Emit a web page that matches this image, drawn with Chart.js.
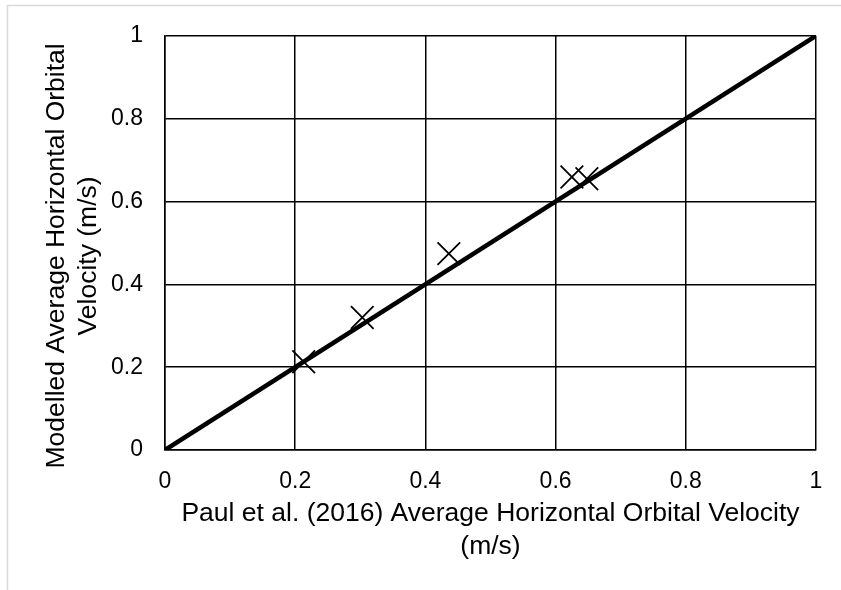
<!DOCTYPE html>
<html>
<head>
<meta charset="utf-8">
<script src="https://cdn.jsdelivr.net/npm/chart.js@4/dist/chart.umd.min.js"></script>
<style>
  html, body { margin: 0; padding: 0; background: #fff; }
  #wrap { width: 841px; height: 590px; position: relative; }
</style>
</head>
<body>
<div id="wrap"><canvas id="orbital"></canvas></div>
<script>
// Measured (Paul et al. 2016) vs modelled average horizontal orbital velocity, m/s
const paulVelocity     = [0.213, 0.303, 0.436, 0.625, 0.648];
const modelledVelocity = [0.213, 0.320, 0.474, 0.659, 0.655];
// 1:1 reference line
const identityLine = [0, 1];
const tickValues   = [0, 0.2, 0.4, 0.6, 0.8, 1];

const xTitle = ['Paul et al. (2016) Average Horizontal Orbital Velocity', '(m/s)'];
const yTitle = ['Modelled Average Horizontal Orbital', 'Velocity (m/s)'];

const FONT = "'Liberation Sans', Arial, sans-serif";
const TITLE_SIZE = 26.5;

// light grey frame round the whole chart, partly outside the canvas
const chartFrame = {
    id: 'chartFrame',
    beforeDraw(chart) {
        const { ctx } = chart;
        ctx.save();
        ctx.fillStyle = '#fff';
        ctx.fillRect(0, 0, chart.width, chart.height);
        ctx.strokeStyle = '#d9d9d9';
        ctx.lineWidth = 1.5;
        ctx.strokeRect(7.5, 5.5, chart.width + 20, chart.height + 20);
        ctx.restore();
    },
};

// vertical axis title, two rotated lines, sitting a little below the plot centre
const yAxisTitle = {
    id: 'yAxisTitle',
    afterDraw(chart) {
        const { ctx, chartArea } = chart;
        const cy = (chartArea.top + chartArea.bottom) / 2 + 13;
        ctx.save();
        ctx.translate(57, cy);
        ctx.rotate(-Math.PI / 2);
        ctx.fillStyle = '#000';
        ctx.font = `${TITLE_SIZE}px ${FONT}`;
        ctx.textAlign = 'center';
        ctx.textBaseline = 'middle';
        yTitle.forEach((line, i) => ctx.fillText(line, 0, i * 32));
        ctx.restore();
    },
};

const ticksFrom = (scale) => {
    scale.ticks = tickValues.map((v) => ({ value: v }));
};

new Chart(document.getElementById('orbital'), {
    type: 'scatter',
    data: {
        datasets: [
            {
                type: 'line',
                label: '1:1',
                data: identityLine.map((v) => ({ x: v, y: v })),
                borderColor: '#000',
                borderWidth: 4.5,
                pointRadius: 0,
                fill: false,
            },
            {
                label: 'Velocity',
                data: paulVelocity.map((x, i) => ({ x, y: modelledVelocity[i] })),
                pointStyle: 'crossRot',
                pointRadius: 16,
                pointBorderWidth: 1.8,
                borderColor: '#000',
                backgroundColor: '#000',
            },
        ],
    },
    options: {
        responsive: true,
        maintainAspectRatio: false,
        animation: false,
        layout: { padding: { top: 34, right: 25, left: 0, bottom: 0 } },
        plugins: {
            legend: { display: false },
            tooltip: { enabled: false },
        },
        scales: {
            x: {
                type: 'linear',
                min: 0,
                max: 1,
                afterBuildTicks: ticksFrom,
                afterFit: (s) => { s.height = 140; },
                grid: { color: '#000', lineWidth: 1.5, drawTicks: false },
                border: { color: '#000', width: 1.5 },
                ticks: {
                    color: '#000',
                    padding: 18,
                    font: { family: FONT, size: 23 },
                    callback: (v) => String(v),
                },
                title: {
                    display: true,
                    text: xTitle,
                    color: '#000',
                    font: { family: FONT, size: TITLE_SIZE, lineHeight: 1.25 },
                    padding: { top: 0, bottom: 27 },
                },
            },
            y: {
                type: 'linear',
                min: 0,
                max: 1,
                afterBuildTicks: ticksFrom,
                afterFit: (s) => { s.width = 165; },
                grid: { color: '#000', lineWidth: 1.5, drawTicks: false },
                border: { color: '#000', width: 1.5 },
                ticks: {
                    color: '#000',
                    padding: 22,
                    font: { family: FONT, size: 23 },
                    callback: (v) => String(v),
                },
            },
        },
    },
    plugins: [chartFrame, yAxisTitle],
});
</script>
</body>
</html>
